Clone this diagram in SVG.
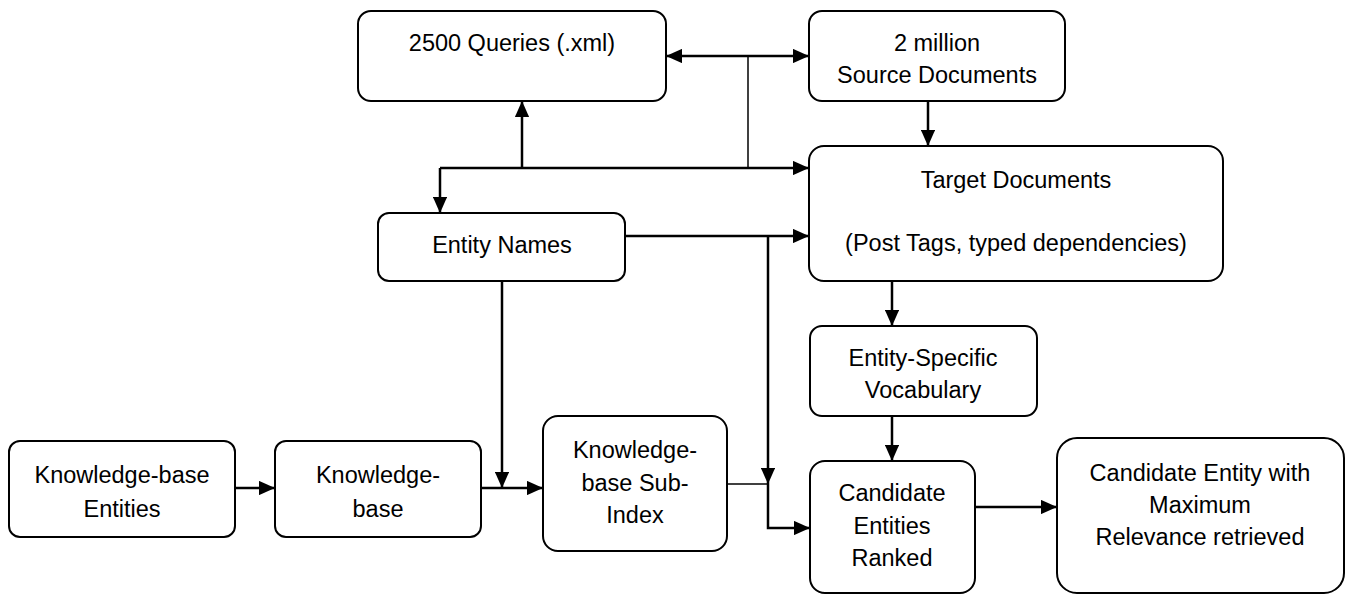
<svg xmlns="http://www.w3.org/2000/svg" width="1346" height="595" viewBox="0 0 1346 595">
<defs>
<marker id="ah" viewBox="0 0 10 10" refX="10" refY="5" markerWidth="6.5" markerHeight="5.8" markerUnits="strokeWidth" orient="auto-start-reverse" preserveAspectRatio="none">
<path d="M0,0 L10,5 L0,10 z" fill="#000"/>
</marker>
<style>
.box{fill:#fff;stroke:#000;stroke-width:2}
.t{font-family:"Liberation Sans",Arial,sans-serif;font-size:23.5px;fill:#000;text-anchor:middle}
.c{fill:none;stroke:#000;stroke-width:2.5}
.thin{fill:none;stroke:#000;stroke-width:1.5}
.a{marker-end:url(#ah)}
</style>
</defs>
<rect width="1346" height="595" fill="#fff"/>
<g id="connectors">
<path class="c a" d="M748,56 L809,56"/>
<path class="c a" d="M748,56 L666,56"/>
<path class="thin" d="M748,56 L748,168"/>
<path class="c a" d="M440,168 L809,168"/>
<path class="c a" d="M522,168 L522,101"/>
<path class="c a" d="M440,168 L440,213"/>
<path class="c a" d="M928,101 L928,146"/>
<path class="c a" d="M625,236 L809,236"/>
<path class="c a" d="M768,236 L768,484"/>
<path class="c a" d="M768,484 L768,528 L810,528"/>
<path class="thin" d="M727,484 L768,484"/>
<path class="c a" d="M502,281 L502,488"/>
<path class="c a" d="M235,488 L275,488"/>
<path class="c a" d="M481,488 L543,488"/>
<path class="c a" d="M892,281 L892,326"/>
<path class="c a" d="M892,416 L892,461"/>
<path class="c a" d="M975,507 L1057,507"/>
</g>
<g id="queries">
<rect class="box" x="358" y="11" width="308" height="90" rx="13"/>
<text class="t" x="512" y="51">2500 Queries (.xml)</text>
</g>
<g id="source">
<rect class="box" x="809" y="11" width="256" height="90" rx="13"/>
<text class="t" x="937" y="51">2 million</text>
<text class="t" x="937" y="83">Source Documents</text>
</g>
<g id="target">
<rect class="box" x="809" y="146" width="414" height="135" rx="15"/>
<text class="t" x="1016" y="188">Target Documents</text>
<text class="t" x="1016" y="251">(Post Tags, typed dependencies)</text>
</g>
<g id="entity-names">
<rect class="box" x="378" y="213" width="247" height="68" rx="11"/>
<text class="t" x="502" y="253">Entity Names</text>
</g>
<g id="kb-entities">
<rect class="box" x="9" y="441" width="226" height="96" rx="11"/>
<text class="t" x="122" y="483">Knowledge-base</text>
<text class="t" x="122" y="517">Entities</text>
</g>
<g id="kb">
<rect class="box" x="275" y="441" width="206" height="96" rx="11"/>
<text class="t" x="378" y="483">Knowledge-</text>
<text class="t" x="378" y="517">base</text>
</g>
<g id="kb-subindex">
<rect class="box" x="543" y="416" width="184" height="135" rx="15"/>
<text class="t" x="635" y="458">Knowledge-</text>
<text class="t" x="635" y="491">base Sub-</text>
<text class="t" x="635" y="523">Index</text>
</g>
<g id="vocab">
<rect class="box" x="810" y="326" width="227" height="90" rx="12"/>
<text class="t" x="923" y="366">Entity-Specific</text>
<text class="t" x="923" y="398">Vocabulary</text>
</g>
<g id="candidates">
<rect class="box" x="810" y="461" width="165" height="132" rx="15"/>
<text class="t" x="892" y="501">Candidate</text>
<text class="t" x="892" y="534">Entities</text>
<text class="t" x="892" y="566">Ranked</text>
</g>
<g id="final">
<rect class="box" x="1057" y="438" width="287" height="155" rx="20"/>
<text class="t" x="1200" y="481">Candidate Entity with</text>
<text class="t" x="1200" y="513">Maximum</text>
<text class="t" x="1200" y="545">Relevance retrieved</text>
</g>
</svg>
